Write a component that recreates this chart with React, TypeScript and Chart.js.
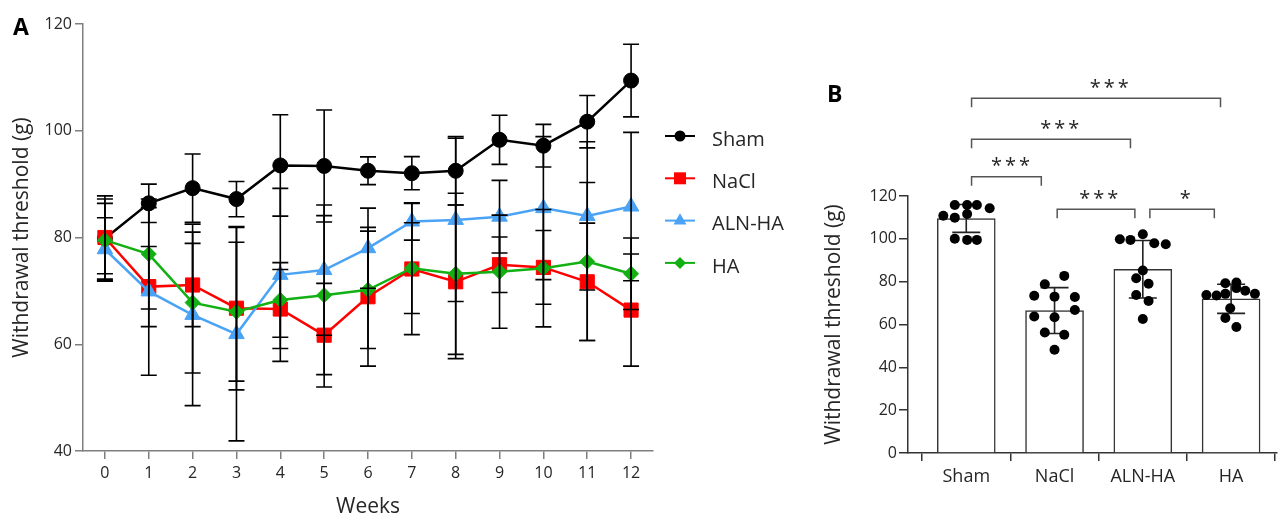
import React, { useEffect, useRef } from 'react';
import { Chart, registerables } from 'chart.js';

Chart.register(...registerables);

const FONT = "'Open Sans', sans-serif";
const TEXT = '#262626';

// ---------- Panel A data ----------
const weeks = [0, 1, 2, 3, 4, 5, 6, 7, 8, 9, 10, 11, 12];
const yTicksA = [40, 60, 80, 100, 120];
const seriesNames = ['Sham', 'NaCl', 'ALN-HA', 'HA'];
const shamMean = [79.8, 86.4, 89.25, 87.2, 93.5, 93.4, 92.5, 92.05, 92.5, 98.3, 97.2, 101.7, 109.4];
const shamSD = [6.6, 3.6, 6.4, 3.3, 9.5, 10.5, 2.6, 3.1, 6.4, 4.6, 4.0, 4.9, 6.8];
const naclMean = [80.0, 70.8, 71.1, 66.75, 66.6, 61.7, 68.9, 74.1, 71.7, 74.9, 74.4, 71.7, 66.4];
const naclSD = [7.8, 7.5, 7.8, 15.3, 7.4, 9.7, 13.0, 12.3, 14.4, 5.2, 6.9, 11.0, 10.5];
const alnMean = [77.8, 69.9, 65.5, 61.9, 73.0, 73.9, 78.0, 83.0, 83.3, 83.9, 85.5, 84.05, 85.8];
const alnSD = [5.9, 15.7, 17.0, 20.0, 16.2, 12.2, 7.5, 3.5, 15.3, 6.8, 13.4, 13.9, 13.9];
const haMean = [79.5, 76.9, 67.8, 66.1, 68.3, 69.2, 70.2, 74.25, 73.2, 73.6, 74.25, 75.5, 73.2];
const haSD = [7.7, 10.3, 13.2, 13.0, 7.0, 14.9, 11.0, 8.5, 15.1, 10.6, 11.0, 14.8, 6.7];

// ---------- Panel B data ----------
const groups = ['Sham', 'NaCl', 'ALN-HA', 'HA'];
const yTicksB = [0, 20, 40, 60, 80, 100, 120];
const barMeans = [109.5, 66.5, 85.8, 72.0];
const barSD = [6.5, 10.7, 13.4, 6.8];
const shamDots = [115.8, 115.8, 115.8, 114.3, 110.8, 109.9, 111.6, 100.0, 99.5, 99.5];
const shamJitter = [-0.13, 0.01, 0.12, 0.265, -0.26, -0.13, 0.01, -0.13, 0.01, 0.12];
const naclDots = [82.7, 78.8, 73.4, 73.0, 72.8, 66.8, 63.7, 63.4, 56.3, 55.2, 48.2];
const naclJitter = [0.11, -0.11, -0.23, 0, 0.23, 0.23, -0.23, 0, -0.11, 0.11, 0];
const alnDots = [99.8, 99.5, 102.1, 97.9, 97.5, 85.2, 81.6, 79.0, 73.8, 71.0, 62.6];
const alnJitter = [-0.26, -0.14, 0, 0.13, 0.26, 0, -0.075, 0.065, -0.075, 0.065, 0];
const haDots = [79.3, 79.6, 77.0, 75.8, 74.3, 73.8, 73.5, 74.3, 67.6, 63.0, 58.8];
const haJitter = [-0.065, 0.06, 0.06, 0.16, 0.27, -0.28, -0.165, -0.065, -0.01, -0.065, 0.06];

// significance brackets (x in category units, y in data units)
const bracketFrom = [0.06, 0.06, 0.06, 1.03, 2.08];
const bracketTo = [0.85, 1.86, 2.88, 1.91, 2.81];
const bracketY = [129, 146.5, 165.6, 113.8, 113.8];
const bracketStarX = [0.5, 1.06, 1.62, 1.5, 2.48];
const bracketLabel = ['***', '***', '***', '***', '*'];

function drawMarker(ctx: CanvasRenderingContext2D, style: string, x: number, y: number, r: number, color: string) {
  ctx.fillStyle = color;
  ctx.beginPath();
  if (style === 'circle') {
    ctx.arc(x, y, r, 0, Math.PI * 2);
  } else if (style === 'rect') {
    ctx.rect(x - r, y - r, 2 * r, 2 * r);
  } else if (style === 'triangle') {
    ctx.moveTo(x, y - r * 1.15);
    ctx.lineTo(x + r, y + r * 0.6);
    ctx.lineTo(x - r, y + r * 0.6);
    ctx.closePath();
  } else {
    ctx.moveTo(x, y - r);
    ctx.lineTo(x + r, y);
    ctx.lineTo(x, y + r);
    ctx.lineTo(x - r, y);
    ctx.closePath();
  }
  ctx.fill();
}

export default function App() {
  const refA = useRef<HTMLCanvasElement>(null);
  const refB = useRef<HTMLCanvasElement>(null);

  useEffect(() => {
    const means = [shamMean, naclMean, alnMean, haMean];
    const sds = [shamSD, naclSD, alnSD, haSD];
    const colors = ['#000000', '#ff0000', '#4aa3f5', '#12b012'];
    const styles = ['circle', 'rect', 'triangle', 'rectRot'];
    const radii = [7.5, 10, 9, 7.5];
    const legendR = [5.5, 6, 6.5, 6];

    const errorBarsA = {
      id: 'errorBarsA',
      afterDatasetsDraw(chart: any) {
        const { ctx, scales } = chart;
        const x = scales.x, y = scales.y;
        ctx.save();
        ctx.strokeStyle = '#000';
        ctx.lineWidth = 1.6;
        means.forEach((m, si) => {
          m.forEach((v, i) => {
            const px = x.getPixelForValue(weeks[i]);
            const t = y.getPixelForValue(v + sds[si][i]);
            const b = y.getPixelForValue(v - sds[si][i]);
            ctx.beginPath();
            ctx.moveTo(px, t); ctx.lineTo(px, b);
            ctx.moveTo(px - 8, t); ctx.lineTo(px + 8, t);
            ctx.moveTo(px - 8, b); ctx.lineTo(px + 8, b);
            ctx.stroke();
          });
        });
        ctx.restore();
      },
    };

    const legendA = {
      id: 'legendA',
      afterDraw(chart: any) {
        const { ctx } = chart;
        ctx.save();
        chart.data.datasets.forEach((ds: any, i: number) => {
          const yy = 136 + i * 42.3;
          ctx.strokeStyle = ds.borderColor;
          ctx.lineWidth = 2;
          ctx.beginPath();
          ctx.moveTo(665, yy); ctx.lineTo(695, yy);
          ctx.stroke();
          drawMarker(ctx, styles[i], 680, yy, legendR[i], ds.borderColor);
          ctx.fillStyle = TEXT;
          ctx.font = `20px ${FONT}`;
          ctx.textAlign = 'left';
          ctx.textBaseline = 'middle';
          ctx.fillText(ds.label, 712, yy + 4);
        });
        ctx.font = `bold 23px ${FONT}`;
        ctx.fillStyle = '#000';
        ctx.textBaseline = 'alphabetic';
        ctx.fillText('A', 13, 35);
        ctx.restore();
      },
    };

    const chartA = new Chart(refA.current!, {
      type: 'line',
      data: {
        datasets: seriesNames.map((name, i) => ({
          label: name,
          data: means[i].map((v, k) => ({ x: weeks[k], y: v })),
          borderColor: colors[i],
          backgroundColor: colors[i],
          pointBackgroundColor: colors[i],
          pointBorderColor: colors[i],
          pointBorderWidth: 1,
          pointStyle: styles[i],
          pointRadius: radii[i],
          borderWidth: 2.5,
          tension: 0,
          order: 4 - i,
        })),
      },
      options: {
        animation: false,
        responsive: false,
        layout: { padding: { top: 24, right: 147, left: 0, bottom: 0 } },
        plugins: { legend: { display: false }, tooltip: { enabled: false } },
        scales: {
          x: {
            type: 'linear',
            min: -0.5,
            max: 12.5,
            afterBuildTicks: (s: any) => { s.ticks = weeks.map((v) => ({ value: v })); },
            afterFit: (s: any) => { s.height = 69; },
            ticks: { font: { size: 16, family: FONT }, color: TEXT, padding: 5, autoSkip: false, maxRotation: 0 },
            grid: { drawOnChartArea: false, drawTicks: true, tickLength: 8, color: '#7f7f7f', lineWidth: 1.5 },
            border: { color: '#7f7f7f', width: 1.5 },
            title: { display: true, text: 'Weeks', font: { size: 21, family: FONT }, color: TEXT, padding: { top: 0, bottom: 0 } },
          },
          y: {
            min: 40,
            max: 120,
            afterBuildTicks: (s: any) => { s.ticks = yTicksA.map((v) => ({ value: v })); },
            afterFit: (s: any) => { s.width = 83; },
            ticks: { font: { size: 16, family: FONT }, color: TEXT, padding: 3 },
            grid: { drawOnChartArea: false, drawTicks: true, tickLength: 8, color: '#7f7f7f', lineWidth: 1.5 },
            border: { color: '#7f7f7f', width: 1.5 },
            title: { display: true, text: 'Withdrawal threshold (g)', font: { size: 21, family: FONT }, color: TEXT, padding: { top: 9, bottom: 0 } },
          },
        },
      } as any,
      plugins: [errorBarsA, legendA],
    });

    const dotSets = [shamDots, naclDots, alnDots, haDots];
    const jitters = [shamJitter, naclJitter, alnJitter, haJitter];
    const dots: { x: number; y: number }[] = [];
    dotSets.forEach((set, g) => set.forEach((v, k) => dots.push({ x: g + jitters[g][k], y: v })));

    const errorBarsB = {
      id: 'errorBarsB',
      afterDatasetDraw(chart: any, args: any) {
        if (args.index !== 0) return;
        const { ctx, scales } = chart;
        const x = scales.x, y = scales.y;
        ctx.save();
        ctx.strokeStyle = '#222';
        ctx.lineWidth = 1.6;
        barMeans.forEach((m, i) => {
          const px = x.getPixelForValue(i);
          const t = y.getPixelForValue(m + barSD[i]);
          const b = y.getPixelForValue(m - barSD[i]);
          ctx.beginPath();
          ctx.moveTo(px, t); ctx.lineTo(px, b);
          ctx.moveTo(px - 14, t); ctx.lineTo(px + 14, t);
          ctx.moveTo(px - 14, b); ctx.lineTo(px + 14, b);
          ctx.stroke();
        });
        ctx.restore();
      },
    };

    const bracketsB = {
      id: 'bracketsB',
      afterDraw(chart: any) {
        const { ctx, scales } = chart;
        const x = scales.x, y = scales.y;
        ctx.save();
        ctx.strokeStyle = '#555';
        ctx.lineWidth = 1.5;
        bracketY.forEach((v, i) => {
          const x1 = x.getPixelForValue(bracketFrom[i]);
          const x2 = x.getPixelForValue(bracketTo[i]);
          const yy = y.getPixelForValue(v);
          ctx.beginPath();
          ctx.moveTo(x1, yy + 9); ctx.lineTo(x1, yy); ctx.lineTo(x2, yy); ctx.lineTo(x2, yy + 9);
          ctx.stroke();
          ctx.fillStyle = TEXT;
          ctx.font = `20px ${FONT}`;
          (ctx as any).letterSpacing = '3px';
          ctx.textAlign = 'center';
          ctx.textBaseline = 'alphabetic';
          ctx.fillText(bracketLabel[i], x.getPixelForValue(bracketStarX[i]) + 1.5, yy - 4.5);
        });
        (ctx as any).letterSpacing = '0px';
        ctx.font = `bold 23px ${FONT}`;
        ctx.fillStyle = '#000';
        ctx.textAlign = 'left';
        ctx.fillText('B', 27, 102);
        ctx.restore();
      },
    };

    const chartB = new Chart(refB.current!, {
      type: 'bar',
      data: {
        datasets: [
          {
            type: 'bar',
            data: barMeans.map((m, i) => ({ x: i, y: m })),
            backgroundColor: '#ffffff',
            borderColor: '#333333',
            borderWidth: 1.5,
            barThickness: 58,
            order: 2,
          },
          {
            type: 'scatter',
            data: dots,
            pointRadius: 5,
            pointBackgroundColor: '#000',
            pointBorderColor: '#000',
            pointBorderWidth: 0,
            order: 1,
          },
        ],
      },
      options: {
        animation: false,
        responsive: false,
        layout: { padding: { top: 196, right: 2, left: 0, bottom: 0 } },
        plugins: { legend: { display: false }, tooltip: { enabled: false } },
        scales: {
          x: {
            type: 'linear',
            min: -0.66,
            max: 3.52,
            offset: false,
            afterBuildTicks: (s: any) => { s.ticks = groups.map((_, i) => ({ value: i })); },
            afterFit: (s: any) => { s.height = 67; },
            ticks: {
              font: { size: 18, family: FONT },
              color: TEXT,
              padding: 5,
              autoSkip: false,
              maxRotation: 0,
              callback: (v: any) => groups[Math.round(v)] ?? '',
            },
            grid: { drawOnChartArea: false, drawTicks: true, tickLength: 8, color: '#333', lineWidth: 1.5 },
            border: { color: '#333', width: 1.5 },
          },
          y: {
            min: 0,
            max: 120,
            afterBuildTicks: (s: any) => { s.ticks = yTicksB.map((v) => ({ value: v })); },
            afterFit: (s: any) => { s.width = 108; },
            ticks: { font: { size: 16, family: FONT }, color: TEXT, padding: 2 },
            grid: { drawOnChartArea: false, drawTicks: true, tickLength: 9, color: '#333', lineWidth: 1.5 },
            border: { color: '#333', width: 1.5 },
            title: { display: true, text: 'Withdrawal threshold (g)', font: { size: 21, family: FONT }, color: TEXT, padding: { top: 21, bottom: 0 } },
          },
        },
      } as any,
      plugins: [errorBarsB, bracketsB],
    });

    return () => {
      chartA.destroy();
      chartB.destroy();
    };
  }, []);

  return (
    <div style={{ position: 'absolute', left: 0, top: 0, width: 1282, height: 520, background: '#fff' }}>
      <canvas ref={refA} width={800} height={520} style={{ position: 'absolute', left: 0, top: 0, width: 800, height: 520 }} />
      <canvas ref={refB} width={482} height={520} style={{ position: 'absolute', left: 800, top: 0, width: 482, height: 520 }} />
    </div>
  );
}
